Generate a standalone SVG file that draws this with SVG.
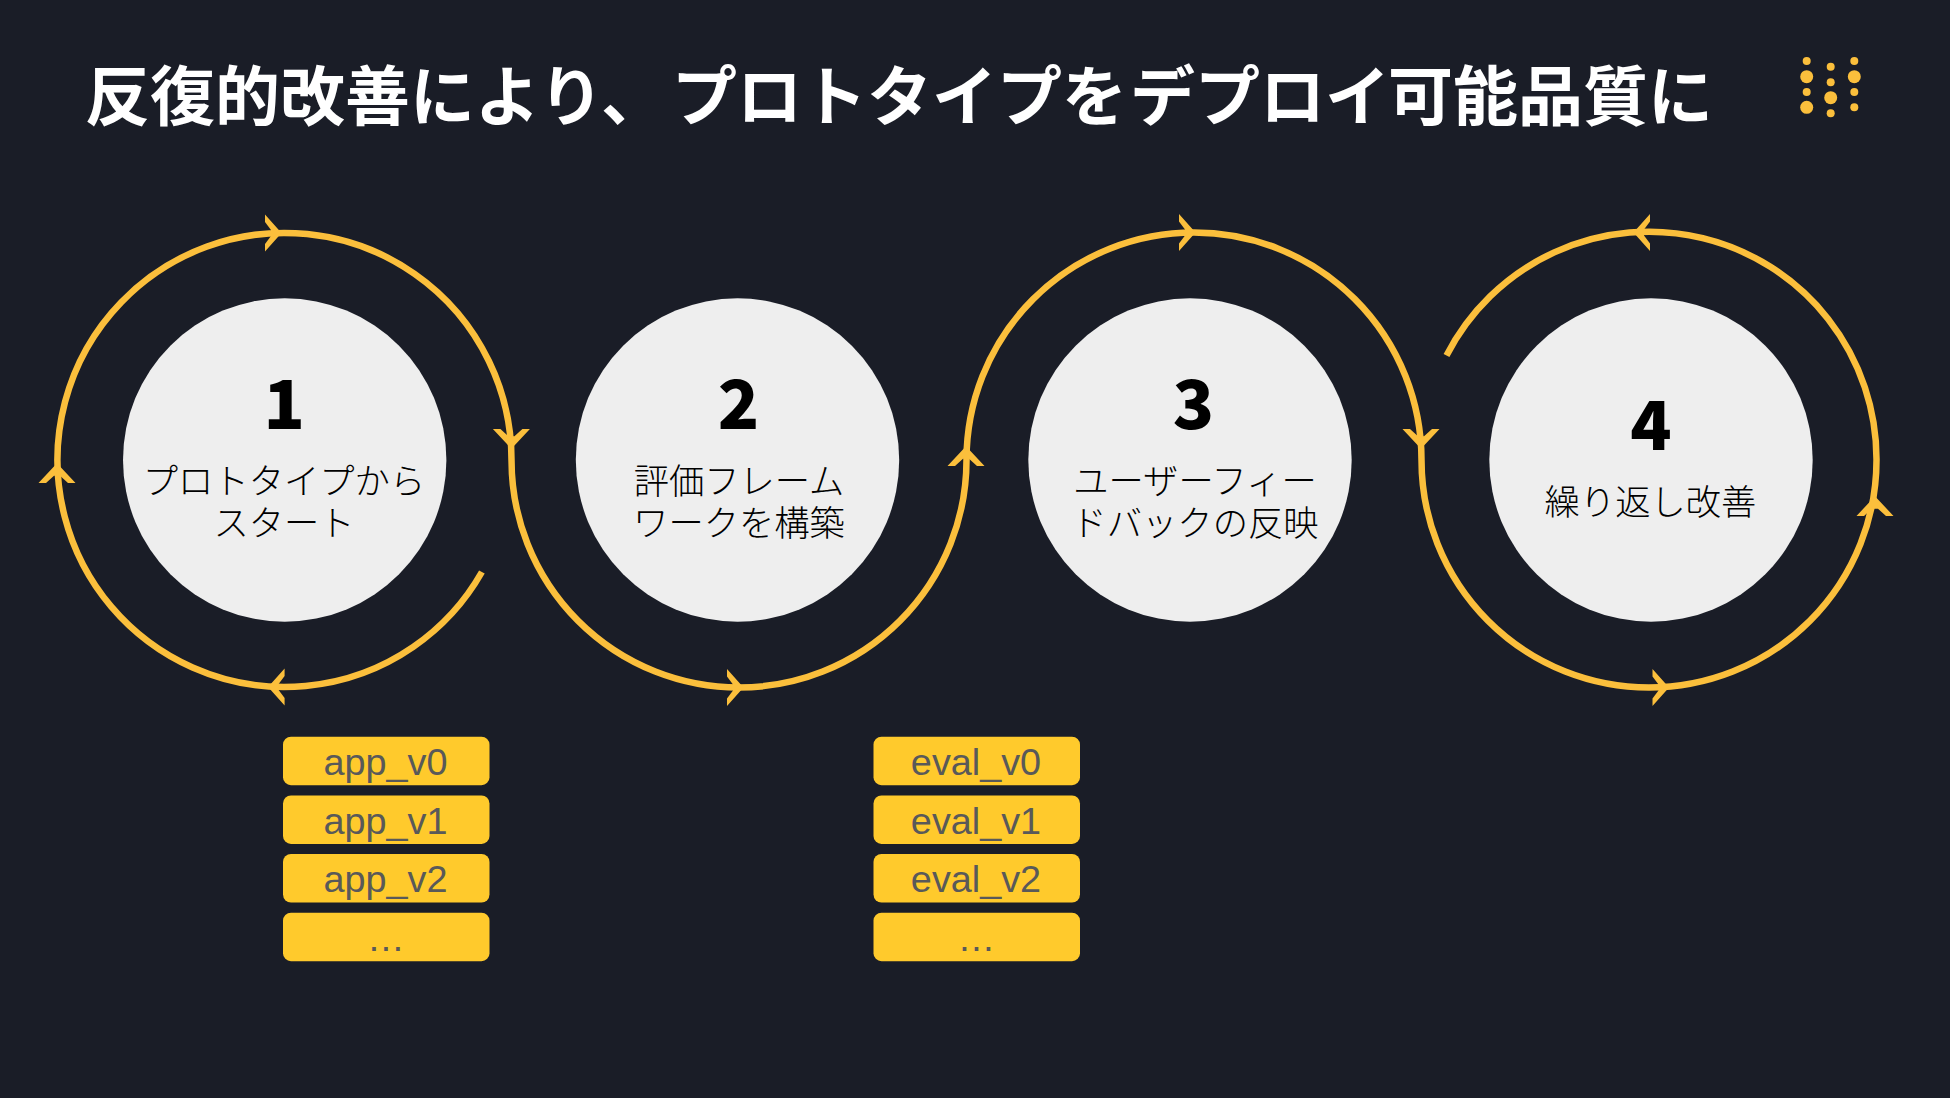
<svg xmlns="http://www.w3.org/2000/svg" width="1950" height="1098" viewBox="0 0 1950 1098">
<style>
.ring{fill:none;stroke:#fbbf3c;stroke-width:6.5}
.ah{fill:#fbbf3c}
.dot{fill:#fbbf3c}
.disc{fill:#eeeeee}
.num{font-family:"Noto Sans CJK JP","Noto Sans",sans-serif;font-weight:900;font-size:68px;fill:#000;text-anchor:middle}
.lab{font-family:"Noto Sans CJK JP","Noto Sans",sans-serif;font-weight:300;font-size:35.3px;fill:#000;text-anchor:middle}
.chip{fill:#ffca2c}
.cht{font-family:"Liberation Sans",Arial,sans-serif;font-size:37.8px;fill:#595959;text-anchor:middle}
.title{font-family:"Noto Sans CJK JP",sans-serif;font-weight:700;font-size:65px;fill:#fff}
</style>
<defs>
<path id="ah" d="M1.5 0L-15 -18.5L-15 -11L-9 -3L-9 3L-15 11L-15 18.5Z"/>
</defs>
<rect width="1950" height="1098" fill="#1a1d27"/>
<text class="title" y="120"><tspan x="85">反復的改善により、</tspan><tspan x="672">プロトタイプを</tspan><tspan x="1130">デプロイ</tspan><tspan x="1388">可能品質に</tspan></text>
<g id="logo" class="dot">
<circle cx="1806.7" cy="61" r="4"/><circle cx="1806.7" cy="76.7" r="6.5"/><circle cx="1806.7" cy="92" r="4"/><circle cx="1806.7" cy="107.3" r="6.5"/>
<circle cx="1830.7" cy="66.7" r="4"/><circle cx="1830.7" cy="82.3" r="4"/><circle cx="1830.7" cy="97.7" r="6.5"/><circle cx="1830.7" cy="113.3" r="4"/>
<circle cx="1854.3" cy="61" r="4"/><circle cx="1854.3" cy="76.7" r="6.5"/><circle cx="1854.3" cy="92" r="4"/><circle cx="1854.3" cy="107.3" r="4"/>
</g>
<g id="connectors">
<path class="ring" d="M481.9 572A227 227 0 1 1 511.5 460A227.5 227.5 0 0 0 966.5 460A227.5 227.5 0 0 1 1421.5 460A227.5 227.5 0 0 0 1876.5 460A227.5 227.5 0 0 0 1446.5 355.5"/>
<use href="#ah" class="ah" transform="translate(280 233)"/>
<use href="#ah" class="ah" transform="translate(511.4 447) rotate(90) scale(1.2 1)"/>
<use href="#ah" class="ah" transform="translate(269.6 687) rotate(180)"/>
<use href="#ah" class="ah" transform="translate(57 465) rotate(-90) scale(1.2 1)"/>
<use href="#ah" class="ah" transform="translate(742 687.5)"/>
<use href="#ah" class="ah" transform="translate(966 448) rotate(-90) scale(1.2 1)"/>
<use href="#ah" class="ah" transform="translate(1194 232.5)"/>
<use href="#ah" class="ah" transform="translate(1421 447) rotate(90) scale(1.2 1)"/>
<use href="#ah" class="ah" transform="translate(1667.5 687.5)"/>
<use href="#ah" class="ah" transform="translate(1875 498) rotate(-90) scale(1.2 1)"/>
<use href="#ah" class="ah" transform="translate(1635 232.5) rotate(180)"/>
</g>
<g id="node1"><circle class="disc" cx="284.7" cy="460" r="161.7"/><text class="num" x="284.2" y="429">1</text><text class="lab" x="284" y="493.5">プロトタイプから</text><text class="lab" x="284" y="535.5">スタート</text></g>
<g id="node2"><circle class="disc" cx="737.5" cy="460" r="161.7"/><text class="num" x="738.5" y="429">2</text><text class="lab" x="739" y="493.5">評価フレーム</text><text class="lab" x="739" y="535.5">ワークを構築</text></g>
<g id="node3"><circle class="disc" cx="1190" cy="460" r="161.7"/><text class="num" x="1193.5" y="429">3</text><text class="lab" x="1195" y="493.5">ユーザーフィー</text><text class="lab" x="1195" y="535.5">ドバックの反映</text></g>
<g id="node4"><circle class="disc" cx="1651" cy="460" r="161.7"/><text class="num" x="1651" y="450">4</text><text class="lab" x="1650.5" y="514.5">繰り返し改善</text></g>
<g id="chip-app0"><rect class="chip" x="283" y="736.7" width="206.5" height="48.5" rx="8"/><text class="cht" x="385.5" y="775">app_v0</text></g>
<g id="chip-app1"><rect class="chip" x="283" y="795.4" width="206.5" height="48.5" rx="8"/><text class="cht" x="385.5" y="833.5">app_v1</text></g>
<g id="chip-app2"><rect class="chip" x="283" y="854" width="206.5" height="48.5" rx="8"/><text class="cht" x="385.5" y="892">app_v2</text></g>
<g id="chip-app3"><rect class="chip" x="283" y="912.7" width="206.5" height="48.5" rx="8"/><text class="cht" x="386" y="950.5">…</text></g>
<g id="chip-eval0"><rect class="chip" x="873.5" y="736.7" width="206.5" height="48.5" rx="8"/><text class="cht" x="976" y="775">eval_v0</text></g>
<g id="chip-eval1"><rect class="chip" x="873.5" y="795.4" width="206.5" height="48.5" rx="8"/><text class="cht" x="976" y="833.5">eval_v1</text></g>
<g id="chip-eval2"><rect class="chip" x="873.5" y="854" width="206.5" height="48.5" rx="8"/><text class="cht" x="976" y="892">eval_v2</text></g>
<g id="chip-eval3"><rect class="chip" x="873.5" y="912.7" width="206.5" height="48.5" rx="8"/><text class="cht" x="976.5" y="950.5">…</text></g>
</svg>
